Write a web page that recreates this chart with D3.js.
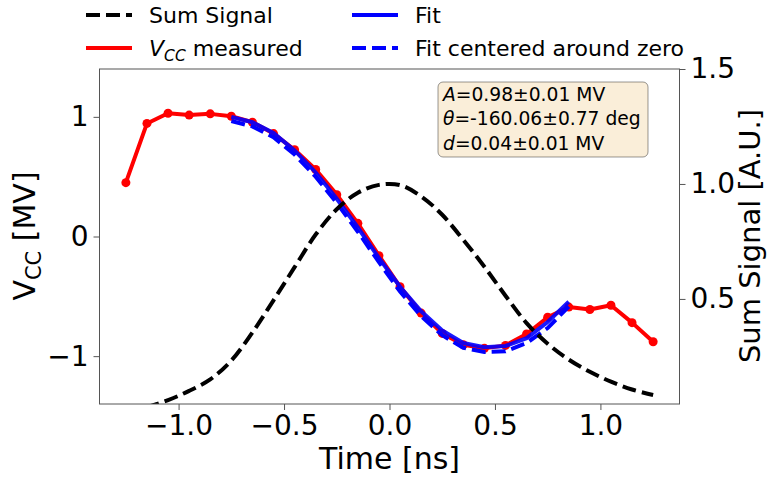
<!DOCTYPE html>
<html>
<head>
<meta charset="utf-8">
<script src="https://cdn.jsdelivr.net/npm/d3@7"></script>
<style>
  body { margin: 0; background: #fff; }
  svg { font-family: "DejaVu Sans", sans-serif; }
</style>
</head>
<body>
<div id="chart"></div>
<script>
// measured time grid [ns]
var time = [-1.25, -1.15, -1.05, -0.95, -0.85, -0.75, -0.65, -0.55, -0.45, -0.35, -0.25, -0.15, -0.05,
            0.05, 0.15, 0.25, 0.35, 0.45, 0.55, 0.65, 0.75, 0.85, 0.95, 1.05, 1.15, 1.25];
var vccMeasured = [0.45, 0.945, 1.03, 1.015, 1.025, 1.005, 0.955, 0.86, 0.725, 0.56, 0.35, 0.11, -0.16,
                   -0.42, -0.64, -0.81, -0.905, -0.935, -0.91, -0.815, -0.675, -0.59, -0.61, -0.575, -0.72, -0.88];
var sumSignal = [0.012, 0.03, 0.06, 0.1, 0.15, 0.232, 0.354, 0.494, 0.638, 0.78, 0.89, 0.962, 0.996,
                 0.995, 0.946, 0.866, 0.757, 0.64, 0.514, 0.395, 0.305, 0.236, 0.183, 0.14, 0.106, 0.082];

// fit range
var fitTime = [-0.75, -0.65, -0.55, -0.45, -0.35, -0.25, -0.15, -0.05, 0.05, 0.15, 0.25, 0.35, 0.45, 0.55, 0.65, 0.75, 0.85];
var fitValues = [1.0, 0.955, 0.865, 0.72, 0.535, 0.315, 0.075, -0.18, -0.42, -0.625, -0.785, -0.89, -0.925, -0.915, -0.85, -0.715, -0.545];
var fitCentered = [0.965, 0.92, 0.83, 0.685, 0.5, 0.28, 0.04, -0.215, -0.46, -0.665, -0.825, -0.93, -0.965, -0.96, -0.89, -0.765, -0.585];

var xTicks = [-1.0, -0.5, 0.0, 0.5, 1.0];
var yLeftTicks = [-1, 0, 1];
var yRightTicks = [0.5, 1.0, 1.5];
var fitText = [["A", "=0.98±0.01 MV"], ["θ", "=-160.06±0.77 deg"], ["d", "=0.04±0.01 MV"]];

var W = 768, H = 479;
var plot = {left: 99.5, right: 679.5, top: 69, bottom: 404};

var svg = d3.select("#chart").append("svg").attr("width", W).attr("height", H);

var x = d3.scaleLinear().domain([-1.375, 1.375]).range([plot.left, plot.right]);
var yL = d3.scaleLinear().domain([-1.4, 1.4]).range([plot.bottom, plot.top]);
var yR = d3.scaleLinear().domain([0.043, 1.5]).range([plot.bottom, plot.top]);

svg.append("clipPath").attr("id", "clip").append("rect")
   .attr("x", plot.left).attr("y", plot.top)
   .attr("width", plot.right - plot.left).attr("height", plot.bottom - plot.top);

var g = svg.append("g").attr("clip-path", "url(#clip)");

var measPts = time.map(function(t, i){ return [t, vccMeasured[i]]; });
var fitPts = fitTime.map(function(t, i){ return [t, fitValues[i]]; });
var fitCPts = fitTime.map(function(t, i){ return [t, fitCentered[i]]; });
var sumPts = time.map(function(t, i){ return [t, sumSignal[i]]; });

var lineL = d3.line().x(function(d){ return x(d[0]); }).y(function(d){ return yL(d[1]); });
var lineR = d3.line().x(function(d){ return x(d[0]); }).y(function(d){ return yR(d[1]); })
              .curve(d3.curveCatmullRom.alpha(0.5));

g.append("path").datum(measPts).attr("d", lineL)
 .attr("fill", "none").attr("stroke", "#ff0000").attr("stroke-width", 4).attr("stroke-linejoin", "round");
g.selectAll("circle.meas").data(measPts).enter().append("circle")
 .attr("class", "meas").attr("cx", function(d){ return x(d[0]); }).attr("cy", function(d){ return yL(d[1]); })
 .attr("r", 4.5).attr("fill", "#ff0000");

g.append("path").datum(fitPts).attr("d", lineL)
 .attr("fill", "none").attr("stroke", "#0000ff").attr("stroke-width", 4).attr("opacity", 0.9);
g.append("path").datum(fitCPts).attr("d", lineL)
 .attr("fill", "none").attr("stroke", "#0000ff").attr("stroke-width", 4)
 .attr("stroke-dasharray", "14,6");

g.append("path").datum(sumPts).attr("d", lineR)
 .attr("fill", "none").attr("stroke", "#000").attr("stroke-width", 4)
 .attr("stroke-dasharray", "14,6");

// frame
svg.append("rect").attr("x", plot.left).attr("y", plot.top)
   .attr("width", plot.right - plot.left).attr("height", plot.bottom - plot.top)
   .attr("fill", "none").attr("stroke", "#555").attr("stroke-width", 1);

function styleAxis(a) {
  a.select(".domain").remove();
  a.selectAll(".tick line").attr("stroke", "#555");
  a.selectAll(".tick text").attr("fill", "#000").style("font-size", "28px").style("font-family", "DejaVu Sans");
}

var xAxis = svg.append("g").attr("transform", "translate(0," + plot.bottom + ")")
  .call(d3.axisBottom(x).tickValues(xTicks).tickFormat(d3.format(".1f")).tickSize(6).tickPadding(5));
styleAxis(xAxis);

var yAxisL = svg.append("g").attr("transform", "translate(" + plot.left + ",0)")
  .call(d3.axisLeft(yL).tickValues(yLeftTicks).tickFormat(d3.format("d")).tickSize(6).tickPadding(5));
styleAxis(yAxisL);

var yAxisR = svg.append("g").attr("transform", "translate(" + plot.right + ",0)")
  .call(d3.axisRight(yR).tickValues(yRightTicks).tickFormat(d3.format(".1f")).tickSize(6).tickPadding(5));
styleAxis(yAxisR);

// axis labels
svg.append("text").attr("x", (plot.left + plot.right) / 2).attr("y", 469)
   .attr("text-anchor", "middle").style("font-size", "30px").text("Time [ns]");

var lab = svg.append("text").attr("transform", "translate(35,236) rotate(-90)")
   .attr("text-anchor", "middle").style("font-size", "30px");
lab.append("tspan").text("V");
lab.append("tspan").attr("dy", 6).style("font-size", "21px").text("CC");
lab.append("tspan").attr("dy", -6).text(" [MV]");

svg.append("text").attr("transform", "translate(760,236) rotate(-90)")
   .attr("text-anchor", "middle").style("font-size", "29px").text("Sum Signal [A.U.]");

// legend
var legend = [
  {col: 0, row: 0, color: "#000", dash: "14,6", label: "Sum Signal"},
  {col: 0, row: 1, color: "#ff0000", dash: null, label: "VCC"},
  {col: 1, row: 0, color: "#0000ff", dash: null, label: "Fit"},
  {col: 1, row: 1, color: "#0000ff", dash: "14,6", label: "Fit centered around zero"}
];
var colX = [86, 352], rowY = [15, 48];
legend.forEach(function(l) {
  var lx = colX[l.col], ly = rowY[l.row];
  svg.append("line").attr("x1", lx).attr("x2", lx + 46).attr("y1", ly).attr("y2", ly)
     .attr("stroke", l.color).attr("stroke-width", 4).attr("stroke-dasharray", l.dash);
  var t = svg.append("text").attr("x", lx + 63).attr("y", ly + 8).style("font-size", "22px");
  if (l.label === "VCC") {
    t.append("tspan").style("font-style", "italic").text("V");
    t.append("tspan").attr("dy", 5).style("font-style", "italic").style("font-size", "15.5px").text("CC");
    t.append("tspan").attr("dy", -5).text(" measured");
  } else {
    t.text(l.label);
  }
});

// fit parameter box
svg.append("rect").attr("x", 438).attr("y", 82).attr("width", 210).attr("height", 75).attr("rx", 5)
   .attr("fill", "rgba(245,222,179,0.5)").attr("stroke", "rgba(0,0,0,0.4)").attr("stroke-width", 1);
fitText.forEach(function(p, i) {
  var t = svg.append("text").attr("x", 443).attr("y", 101 + i * 24.3).style("font-size", "18.7px");
  t.append("tspan").style("font-style", "italic").text(p[0]);
  t.append("tspan").text(p[1]);
});
</script>
</body>
</html>
